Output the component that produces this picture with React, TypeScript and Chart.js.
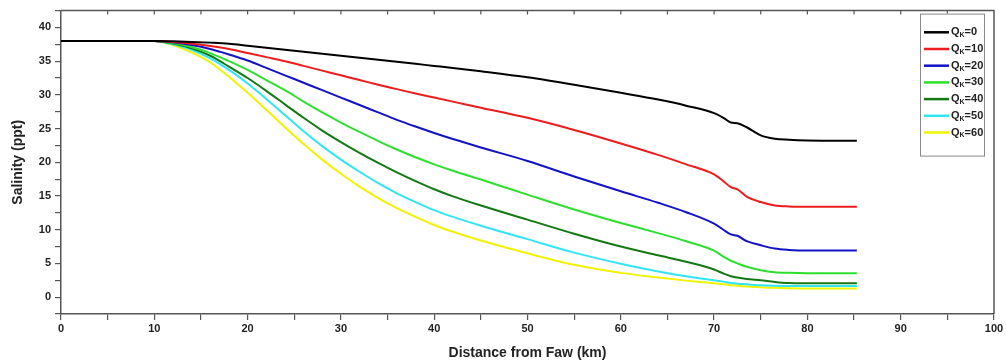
import React, { useEffect, useRef } from 'react';
import { Chart, registerables } from 'chart.js';

Chart.register(...registerables);

// Distance from Faw (km)
const distanceKm = [0, 5, 10, 12, 14, 16, 18, 20, 22, 24, 26, 28, 30, 32, 34, 36, 38, 40, 42, 45, 50, 55, 60, 64, 67, 70, 71, 71.8, 72.5, 73.5, 75, 76.5, 78, 80, 85.3];

// Salinity (ppt) for each Karun discharge
const salinityQ0 = [38, 38, 38, 37.95, 37.85, 37.75, 37.6, 37.3, 37.0, 36.7, 36.4, 36.1, 35.8, 35.5, 35.2, 34.9, 34.6, 34.3, 34.0, 33.5, 32.6, 31.5, 30.3, 29.3, 28.4, 27.3, 26.6, 25.9, 25.8, 25.2, 24.0, 23.5, 23.35, 23.25, 23.2];
const salinityQ10 = [38, 38, 38, 37.85, 37.6, 37.25, 36.8, 36.2, 35.6, 35.0, 34.3, 33.6, 32.9, 32.2, 31.5, 30.85, 30.2, 29.6, 29.0, 28.1, 26.6, 24.8, 22.8, 21.1, 19.7, 18.2, 17.2, 16.3, 16.0, 14.9, 14.1, 13.6, 13.45, 13.4, 13.4];
const salinityQ20 = [38, 38, 38, 37.8, 37.4, 36.8, 36.0, 35.1, 34.0, 32.9, 31.8, 30.7, 29.6, 28.5, 27.4, 26.3, 25.3, 24.35, 23.45, 22.2, 20.2, 17.9, 15.7, 14.0, 12.6, 10.9, 10.0, 9.3, 9.1, 8.3, 7.7, 7.2, 7.0, 6.9, 6.9];
const salinityQ30 = [38, 38, 38, 37.7, 37.1, 36.2, 35.0, 33.7, 32.2, 30.7, 29.0, 27.4, 25.9, 24.5, 23.15, 21.9, 20.75, 19.7, 18.75, 17.45, 15.2, 13.0, 11.0, 9.5, 8.3, 6.9, 6.0, 5.4, 5.0, 4.5, 4.0, 3.7, 3.6, 3.55, 3.55];
const salinityQ40 = [38, 38, 38, 37.6, 36.9, 35.8, 34.2, 32.5, 30.6, 28.6, 26.6, 24.7, 23.0, 21.4, 19.9, 18.5, 17.2, 16.0, 14.95, 13.6, 11.5, 9.4, 7.5, 6.2, 5.25, 4.1, 3.5, 3.1, 2.9, 2.7, 2.5, 2.25, 2.1, 2.07, 2.05];
const salinityQ50 = [38, 38, 38, 37.5, 36.7, 35.4, 33.7, 31.7, 29.4, 27.0, 24.6, 22.4, 20.4, 18.6, 16.9, 15.4, 14.1, 12.9, 11.9, 10.6, 8.6, 6.6, 4.95, 3.8, 3.1, 2.5, 2.3, 2.1, 2.0, 1.9, 1.75, 1.68, 1.65, 1.65, 1.65];
const salinityQ60 = [38, 38, 38, 37.4, 36.3, 34.8, 32.7, 30.3, 27.8, 25.2, 22.7, 20.4, 18.3, 16.4, 14.7, 13.2, 11.9, 10.7, 9.7, 8.4, 6.5, 4.8, 3.6, 2.9, 2.45, 2.05, 1.9, 1.78, 1.68, 1.57, 1.47, 1.38, 1.33, 1.3, 1.3];

const flowRates = [0, 10, 20, 30, 40, 50, 60];
const seriesValues = [salinityQ0, salinityQ10, salinityQ20, salinityQ30, salinityQ40, salinityQ50, salinityQ60];
const seriesColors = ['#000000', '#ee1c1c', '#1212c8', '#2ee02e', '#137a13', '#30e6f2', '#f2f200'];

// Axis ticks
const xMajorTicks = [0, 10, 20, 30, 40, 50, 60, 70, 80, 90, 100];
const yMajorTicks = [0, 5, 10, 15, 20, 25, 30, 35, 40];

const FONT = '"Liberation Sans", Arial, sans-serif';
const AXIS_COLOR = '#555555';

const framePlugin = {
  id: 'frameAndTopTicks',
  afterDraw(chart: any) {
    const { ctx, chartArea } = chart;
    const xs = chart.scales.x;
    ctx.save();
    ctx.strokeStyle = AXIS_COLOR;
    ctx.lineWidth = 1.5;
    ctx.beginPath();
    ctx.moveTo(chartArea.left, chartArea.top);
    ctx.lineTo(chartArea.right, chartArea.top);
    ctx.lineTo(chartArea.right, chartArea.bottom);
    ctx.stroke();
    ctx.lineWidth = 1.2;
    for (let v = 5; v < 100; v += 5) {
      const px = xs.getPixelForValue(v);
      ctx.beginPath();
      ctx.moveTo(px, chartArea.top);
      ctx.lineTo(px, chartArea.top + 4);
      ctx.stroke();
    }
    ctx.restore();
  },
};

const legendPlugin = {
  id: 'boxLegend',
  afterDraw(chart: any) {
    const { ctx, chartArea } = chart;
    const x0 = chartArea.right - 74;
    const y0 = chartArea.top + 3;
    const w = 64;
    const h = 142;
    ctx.save();
    ctx.fillStyle = '#ffffff';
    ctx.fillRect(x0, y0, w, h);
    ctx.strokeStyle = '#888888';
    ctx.lineWidth = 1;
    ctx.strokeRect(x0 + 0.5, y0 + 0.5, w, h);
    chart.data.datasets.forEach((ds: any, i: number) => {
      const y = y0 + 18.7 + i * 16.7;
      ctx.strokeStyle = ds.borderColor;
      ctx.lineWidth = 2.5;
      ctx.beginPath();
      ctx.moveTo(x0 + 4, y);
      ctx.lineTo(x0 + 29, y);
      ctx.stroke();
      ctx.fillStyle = '#222222';
      ctx.textBaseline = 'middle';
      ctx.textAlign = 'left';
      let tx = x0 + 31;
      ctx.font = `bold 11px ${FONT}`;
      ctx.fillText('Q', tx, y);
      tx += ctx.measureText('Q').width;
      ctx.font = `bold 7px ${FONT}`;
      ctx.fillText('K', tx, y + 3);
      tx += ctx.measureText('K').width;
      ctx.font = `bold 11px ${FONT}`;
      ctx.fillText('=' + flowRates[i], tx, y);
    });
    ctx.restore();
  },
};

export default function App() {
  const canvasRef = useRef<HTMLCanvasElement | null>(null);

  useEffect(() => {
    if (!canvasRef.current) return;
    const datasets = seriesValues.map((vals, i) => ({
      label: 'QK=' + flowRates[i],
      data: distanceKm.map((x, j) => ({ x, y: vals[j] })),
      borderColor: seriesColors[i],
      backgroundColor: seriesColors[i],
      borderWidth: 2,
      pointRadius: 0,
      fill: false,
      cubicInterpolationMode: 'monotone' as const,
    }));

    const chart = new Chart(canvasRef.current, {
      type: 'line',
      data: { datasets },
      options: {
        animation: false,
        responsive: true,
        maintainAspectRatio: false,
        layout: { padding: { left: 0, top: 10, right: 12, bottom: 0 } },
        plugins: {
          legend: { display: false },
          tooltip: { enabled: false },
        },
        scales: {
          x: {
            type: 'linear',
            min: 0,
            max: 100,
            afterFit: (scale: any) => {
              scale.height = 48;
            },
            afterBuildTicks: (scale: any) => {
              const t = [];
              for (let v = 0; v <= 100; v += 5) t.push({ value: v });
              scale.ticks = t;
            },
            ticks: {
              autoSkip: false,
              maxRotation: 0,
              padding: 2,
              color: '#222222',
              font: { family: FONT, size: 11, weight: 'bold' },
              callback: (v: any) => (xMajorTicks.includes(Number(v)) ? String(v) : ''),
            },
            grid: {
              display: true,
              drawOnChartArea: false,
              drawTicks: true,
              tickLength: 6,
              color: AXIS_COLOR,
              lineWidth: 1.2,
            },
            border: { display: true, color: AXIS_COLOR, width: 1.5 },
            title: {
              display: true,
              text: 'Distance from Faw (km)',
              color: '#222222',
              font: { family: FONT, size: 14, weight: 'bold' },
              padding: { top: 2, bottom: 0 },
            },
          },
          y: {
            type: 'linear',
            min: -2.5,
            max: 42.5,
            afterFit: (scale: any) => {
              scale.width = 61;
            },
            afterBuildTicks: (scale: any) => {
              const t = [];
              for (let v = -2.5; v <= 42.5; v += 2.5) t.push({ value: v });
              scale.ticks = t;
            },
            ticks: {
              autoSkip: false,
              padding: 4,
              color: '#222222',
              font: { family: FONT, size: 11, weight: 'bold' },
              callback: (v: any) => (yMajorTicks.includes(Number(v)) ? String(v) : ''),
            },
            grid: {
              display: true,
              drawOnChartArea: false,
              drawTicks: true,
              tickLength: 6,
              color: AXIS_COLOR,
              lineWidth: 1.2,
            },
            border: { display: true, color: AXIS_COLOR, width: 1.5 },
            title: {
              display: true,
              text: 'Salinity (ppt)',
              color: '#222222',
              font: { family: FONT, size: 14, weight: 'bold' },
              padding: { top: 10, bottom: 0 },
            },
          },
        },
      },
      plugins: [framePlugin, legendPlugin],
    });

    return () => chart.destroy();
  }, []);

  return (
    <div style={{ position: 'fixed', left: 0, top: 0, width: 1006, height: 362, background: '#ffffff' }}>
      <canvas ref={canvasRef} />
    </div>
  );
}
